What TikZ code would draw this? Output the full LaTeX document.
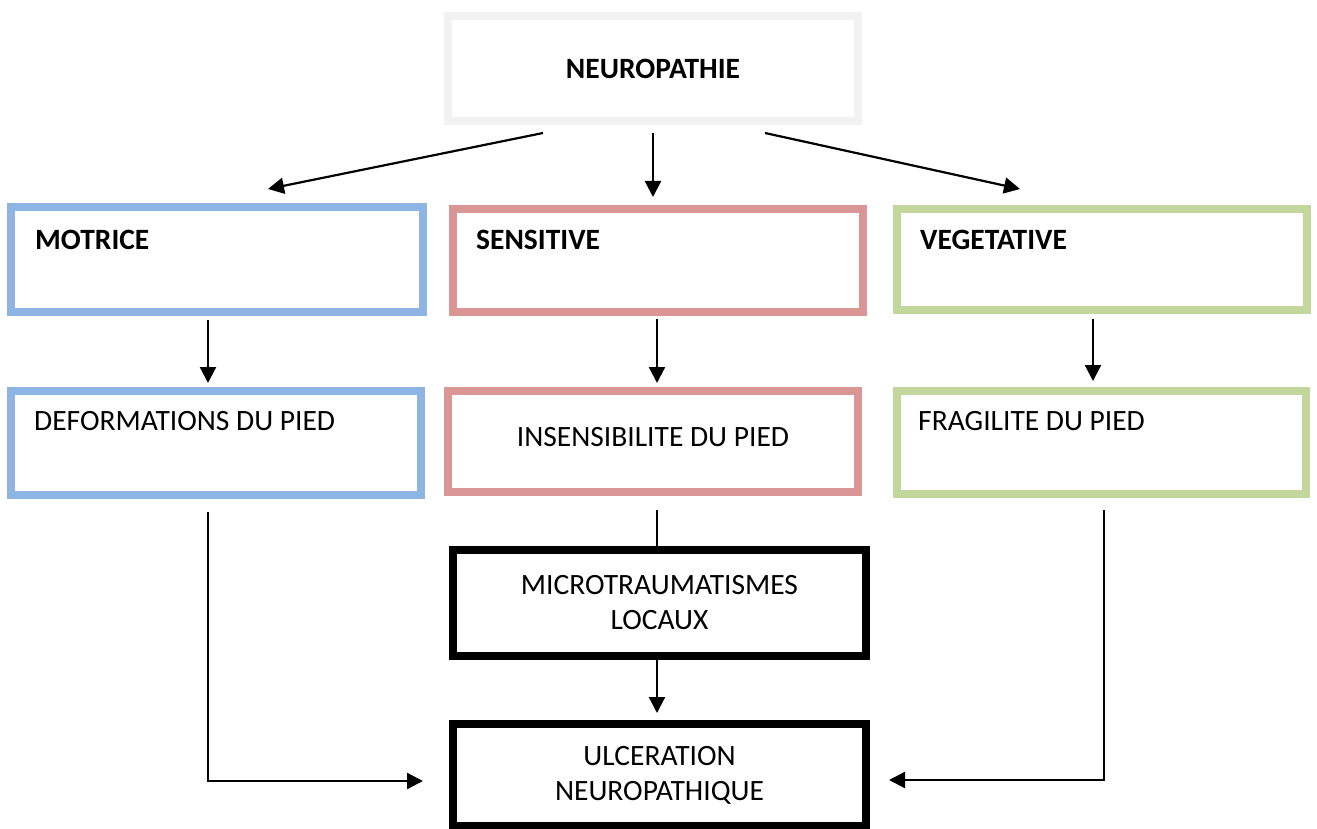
\documentclass[tikz,border=0pt]{standalone}
\usepackage{fontspec}
\setmainfont{Carlito}
\usetikzlibrary{arrows.meta,positioning}

\definecolor{boxgrey}{HTML}{F2F2F2}
\definecolor{boxblue}{HTML}{8EB4E3}
\definecolor{boxred}{HTML}{D99694}
\definecolor{boxgreen}{HTML}{C3D69B}

\begin{document}
\begin{tikzpicture}[x=1pt, y=1pt, >={Triangle[length=16pt,width=16pt]},
  every node/.style={font=\fontsize{29.5}{35}\selectfont},
  cbox/.style={draw=#1, line width=7.5pt, rectangle, minimum width=410pt, minimum height=103pt, inner sep=0pt},
  txt/.style={anchor=west, inner sep=0pt},
  link/.style={line width=2.2pt}]
\path[use as bounding box] (0,0) rectangle (1317,-829);
% boxes
\node[cbox=boxgrey, minimum height=105pt, font=\fontsize{29.5}{35}\selectfont\bfseries] (neuro) at (653,-68.5) {NEUROPATHIE};
\node[cbox=boxblue, minimum width=412pt, minimum height=105pt] (motrice) at (217,-259.5) {};
\node[cbox=boxred] (sensitive) at (658,-260.5) {};
\node[cbox=boxgreen, minimum height=101pt] (vegetative) at (1102,-259.5) {};
\node[cbox=boxblue, minimum height=104pt] (deform) at (216,-443) {};
\node[cbox=boxred, minimum height=101pt] (insens) at (653,-441.5) {};
\node[cbox=boxgreen, minimum width=409pt] (fragil) at (1101.5,-442.5) {};
\node[cbox=black, minimum width=413pt, minimum height=106pt, align=center] (micro) at (659.5,-603) {MICROTRAUMATISMES\\LOCAUX};
\node[cbox=black, minimum width=413pt, minimum height=102pt, align=center] (ulcer) at (659.5,-775) {ULCERATION\\NEUROPATHIQUE};
% texts
\node[txt, font=\fontsize{29.5}{35}\selectfont\bfseries] (motriceT) at (35,-239.5) {MOTRICE};
\node[txt, font=\fontsize{29.5}{35}\selectfont\bfseries] (sensitiveT) at (476,-240) {SENSITIVE};
\node[txt, font=\fontsize{29.5}{35}\selectfont\bfseries] (vegetativeT) at (920,-240) {VEGETATIVE};
\node[txt] (deformT) at (34,-421) {DEFORMATIONS DU PIED};
\node[inner sep=0pt] (insensT) at (653,-437) {INSENSIBILITE DU PIED};
\node[txt] (fragilT) at (918,-421) {FRAGILITE DU PIED};
% connector ends
\coordinate (n1) at (543,-133);
\coordinate (n2) at (653,-133);
\coordinate (n3) at (765,-133);
\coordinate (m1) at (268,-189);
\coordinate (s1) at (653,-197);
\coordinate (v1) at (1020,-189);
\coordinate (m2) at (208,-320);
\coordinate (m3) at (208,-383);
\coordinate (s2) at (657,-319);
\coordinate (s3) at (657,-383);
\coordinate (v2) at (1093,-319);
\coordinate (v3) at (1093,-381);
\coordinate (d1) at (208,-512);
\coordinate (d2) at (208,-781);
\coordinate (u1) at (423,-781);
\coordinate (i1) at (657,-510);
\coordinate (i2) at (657,-550);
\coordinate (c1) at (657,-660);
\coordinate (u2) at (657,-713);
\coordinate (f1) at (1104,-510);
\coordinate (f2) at (1104,-780);
\coordinate (u3) at (889,-780);
% connectors
\draw[link, ->] (n1) -- (m1);
\draw[link, ->] (n2) -- (s1);
\draw[link, ->] (n3) -- (v1);
\draw[link, ->] (m2) -- (m3);
\draw[link, ->] (s2) -- (s3);
\draw[link, ->] (v2) -- (v3);
\draw[link] (i1) -- (i2);
\draw[link, ->] (c1) -- (u2);
\draw[link, ->] (d1) -- (d2) -- (u1);
\draw[link, ->] (f1) -- (f2) -- (u3);
\end{tikzpicture}
\end{document}
